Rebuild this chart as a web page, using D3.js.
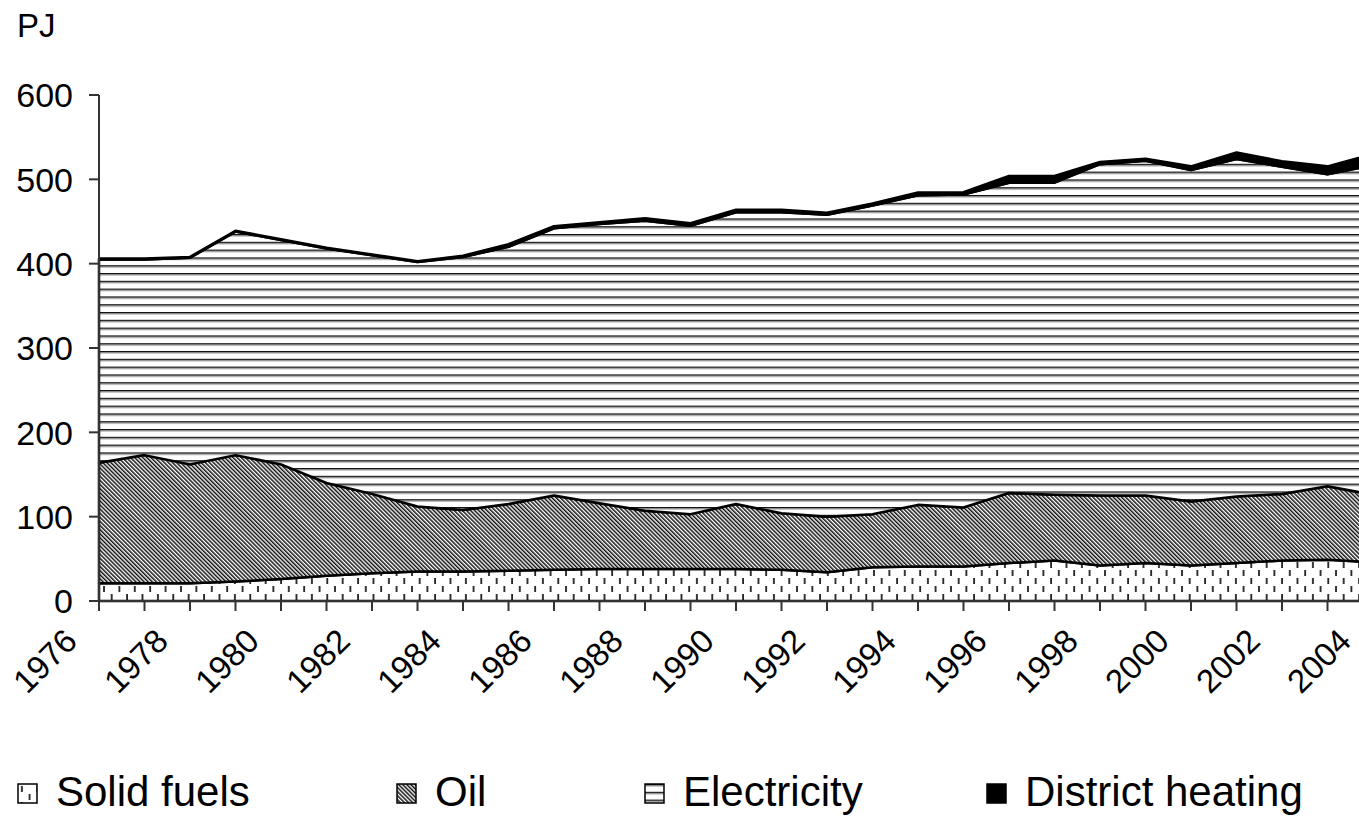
<!DOCTYPE html>
<html>
<head>
<meta charset="utf-8">
<script src="https://cdn.jsdelivr.net/npm/d3@7"></script>
<style>
  html, body { margin: 0; padding: 0; background: #fff; }
  svg { display: block; font-family: "Liberation Sans", Arial, sans-serif; }
</style>
</head>
<body>
<svg id="chart"></svg>
<script>
(function(){
    "use strict";

    const years = d3.range(1976, 2005);

    // PJ per year, stacked bottom to top
    const solidFuels = [21, 21, 21, 23, 26, 30, 33, 35, 35, 36, 37, 38, 38, 38, 38,
                        37, 34, 40, 41, 41, 45, 48, 42, 45, 42, 45, 48, 49, 46];
    const oil = [143, 152, 141, 150, 136, 110, 94, 77, 73, 79, 88, 78, 69, 65, 77,
                 67, 66, 63, 73, 70, 83, 78, 83, 80, 76, 79, 79, 87, 80];
    const electricity = [241, 232, 245, 265, 266, 278, 283, 290, 300, 305, 317, 331, 344, 342, 346,
                         357, 358, 366, 367, 371, 368, 370, 393, 397, 393, 400, 388, 370, 391];
    const districtHeating = [1, 1, 1, 1, 1, 1, 1, 1, 1.5, 3, 2.5, 2, 3, 3, 3,
                             3, 2.3, 2.3, 3.5, 2.8, 8, 8, 2.6, 2.4, 4.4, 7.8, 6.4, 9.4, 13];

    const seriesNames = ["Solid fuels", "Oil", "Electricity", "District heating"];
    const seriesKeys = ["solid", "oil", "elec", "dh"];
    const yTicks = [0, 100, 200, 300, 400, 500, 600];
    const labelYears = d3.range(1976, 2005, 2);

    const width = 1359,
        height = 816;

    const table = years.map((yr, i) => ({
        year: yr,
        solid: solidFuels[i],
        oil: oil[i],
        elec: electricity[i],
        dh: districtHeating[i]
    }));

    // the plot runs a little past the right edge of the picture (2004 is clipped)
    const x = d3.scaleLinear().domain([1976, 2004]).range([99, 99 + 28 * 45.5]);
    const y = d3.scaleLinear().domain([0, 600]).range([601, 95]);

    const svg = d3.select("svg#chart")
        .attr("width", width)
        .attr("height", height);

    // fill patterns
    const defs = svg.append("defs");

    const pSolid = defs.append("pattern")
        .attr("id", "p-solid")
        .attr("patternUnits", "userSpaceOnUse")
        .attr("width", 15.4).attr("height", 16);
    pSolid.append("rect").attr("width", 15.4).attr("height", 16).attr("fill", "#fff");
    pSolid.append("rect").attr("x", 3).attr("y", 2).attr("width", 1.8).attr("height", 6).attr("fill", "#222");
    pSolid.append("rect").attr("x", 10.7).attr("y", 10).attr("width", 1.8).attr("height", 6).attr("fill", "#222");

    const pOil = defs.append("pattern")
        .attr("id", "p-oil")
        .attr("patternUnits", "userSpaceOnUse")
        .attr("width", 2.9).attr("height", 10)
        .attr("patternTransform", "rotate(-45)");
    pOil.append("rect").attr("width", 2.9).attr("height", 10).attr("fill", "#fff");
    pOil.append("rect").attr("width", 1.5).attr("height", 10).attr("fill", "#111");

    const pElec = defs.append("pattern")
        .attr("id", "p-elec")
        .attr("patternUnits", "userSpaceOnUse")
        .attr("width", 10).attr("height", 7.8);
    pElec.append("rect").attr("width", 10).attr("height", 7.8).attr("fill", "#fff");
    pElec.append("rect").attr("y", 0).attr("width", 10).attr("height", 1.5).attr("fill", "#111");
    pElec.append("rect").attr("y", 1.5).attr("width", 10).attr("height", 1).attr("fill", "#999");

    const fills = {solid: "url(#p-solid)", oil: "url(#p-oil)", elec: "url(#p-elec)", dh: "#000"};

    // stacked areas
    const stacked = d3.stack().keys(seriesKeys)(table);

    const area = d3.area()
        .x(d => x(d.data.year))
        .y0(d => y(d[0]))
        .y1(d => y(d[1]));

    svg.append("g")
        .selectAll("path")
        .data(stacked)
        .join("path")
        .attr("d", area)
        .attr("fill", d => fills[d.key])
        .attr("stroke", "#000")
        .attr("stroke-width", 2.5)
        .attr("stroke-linejoin", "round");

    // y axis
    const yAxis = svg.append("g").attr("transform", `translate(99,0)`);
    yAxis.append("line")
        .attr("y1", y(600)).attr("y2", y(0))
        .attr("stroke", "#333").attr("stroke-width", 2);
    yAxis.selectAll("line.tick")
        .data(yTicks)
        .join("line")
        .attr("class", "tick")
        .attr("x1", -10).attr("x2", 0)
        .attr("y1", d => y(d)).attr("y2", d => y(d))
        .attr("stroke", "#333").attr("stroke-width", 2);
    yAxis.selectAll("text")
        .data(yTicks)
        .join("text")
        .attr("x", -26)
        .attr("y", d => y(d))
        .attr("dy", "0.36em")
        .attr("text-anchor", "end")
        .attr("font-size", 34)
        .text(d => d);

    svg.append("text")
        .attr("x", 17).attr("y", 37)
        .attr("font-size", 33)
        .text("PJ");

    // x axis
    const xAxis = svg.append("g").attr("transform", `translate(0,${y(0)})`);
    xAxis.append("line")
        .attr("x1", 99).attr("x2", width)
        .attr("stroke", "#333").attr("stroke-width", 2);
    xAxis.selectAll("line.tick")
        .data(years)
        .join("line")
        .attr("class", "tick")
        .attr("x1", d => x(d)).attr("x2", d => x(d))
        .attr("y1", 0).attr("y2", 10)
        .attr("stroke", "#333").attr("stroke-width", 2);
    xAxis.selectAll("text")
        .data(labelYears)
        .join("text")
        .attr("text-anchor", "end")
        .attr("font-size", 33)
        .attr("transform", d => `translate(${x(d) - 20},${42}) rotate(-45)`)
        .text(d => d);

    // legend
    const legendX = [18, 397, 645, 987];
    const legend = svg.append("g")
        .selectAll("g")
        .data(seriesKeys)
        .join("g")
        .attr("transform", (d, i) => `translate(${legendX[i]},784)`);
    legend.append("rect")
        .attr("width", 19).attr("height", 19)
        .attr("fill", d => fills[d])
        .attr("stroke", "#000").attr("stroke-width", 1.5);
    legend.append("text")
        .attr("x", 38).attr("y", 22)
        .attr("font-size", 42)
        .text((d, i) => seriesNames[i]);
})();
</script>
</body>
</html>
